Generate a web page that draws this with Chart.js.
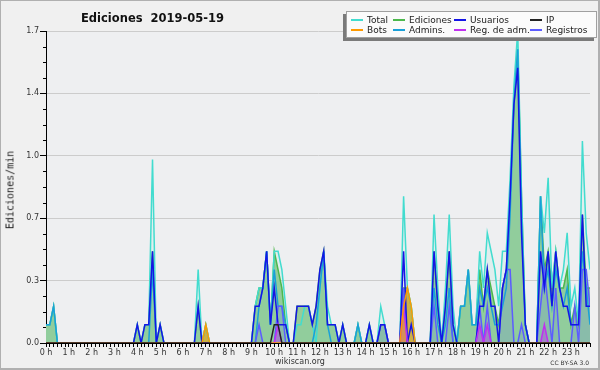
<!DOCTYPE html>
<html>
<head>
<meta charset="utf-8">
<script src="https://cdn.jsdelivr.net/npm/chart.js@4.4.0/dist/chart.umd.min.js"></script>
<style>
body { margin: 0; background: #f0f0f0; }
#caja { position: relative; width: 600px; height: 370px; overflow: hidden; font-family: "DejaVu Sans", sans-serif; color: #222; }
#grafico { position: absolute; left: 0; top: 0; }
#marco { position: absolute; left: 0; top: 0; width: 600px; height: 370px; box-sizing: border-box; border: 1px solid #b0b0b0; border-right-width: 2px; border-bottom-width: 2px; pointer-events: none; }
#titulo { position: absolute; left: 81px; top: 11px; font-size: 11.5px; font-weight: bold; white-space: pre; color: #111; }
#tituloY { position: absolute; left: 10px; top: 190px; font-family: "DejaVu Sans Mono", monospace; font-size: 10px; white-space: nowrap; transform: translate(-50%, -50%) rotate(-90deg); }
#leyenda { position: absolute; left: 346px; top: 11px; width: 251px; height: 27px; box-sizing: border-box; background: #fbfbfb; border: 1px solid #a0a0a0; box-shadow: -3px 3px 0 #7a7a7a; }
.item { position: absolute; font-size: 9px; line-height: 10px; white-space: nowrap; }
.item i { position: absolute; left: -16px; top: 4px; width: 12px; height: 1.5px; }
#pie { position: absolute; left: 0; top: 357px; width: 600px; text-align: center; font-size: 8px; color: #333; }
#licencia { position: absolute; right: 11px; top: 359px; font-size: 6px; color: #333; }
</style>
</head>
<body>
<div id="caja">
  <canvas id="grafico" width="600" height="370"></canvas>
  <div id="titulo">Ediciones  2019-05-19</div>
  <div id="tituloY">Ediciones/min</div>
  <div id="leyenda"></div>
  <div id="pie">wikiscan.org</div>
  <div id="licencia">CC BY-SA 3.0</div>
  <div id="marco"></div>
</div>
<script>
// Valores a cada 10 minutos (144 pontos, 12 por linha = 2 horas)
var total = [
  0.1,0.1,0.2,0,0,0,0,0,0,0,0,0,
  0,0,0,0,0,0,0,0,0,0,0,0,
  0.1,0,0.1,0.1,1.0,0,0.1,0,0,0,0,0,
  0,0,0,0,0.4,0,0.1,0,0,0,0,0,
  0,0,0,0,0,0,0,0.2,0.3,0.3,0.5,0.1,
  0.5,0.5,0.4,0.2,0,0,0.1,0.1,0.2,0.2,0.1,0,
  0.3,0.5,0.2,0.1,0.1,0,0.1,0,0,0,0.1,0,
  0,0.1,0,0,0.2,0.1,0,0,0,0,0.8,0.3,
  0.2,0,0,0,0,0,0.7,0.3,0,0.3,0.7,0.2,
  0,0.2,0.2,0.4,0.1,0.1,0.5,0.3,0.6,0.5,0.4,0.2,
  0.5,0.5,0.9,1.4,1.7,0.8,0.1,0,0,0,0.8,0.6,
  0.9,0.3,0.5,0.3,0.4,0.6,0.2,0.3,0.1,1.1,0.6,0.4
];
var ediciones = [
  0.1,0.1,0.2,0,0,0,0,0,0,0,0,0,
  0,0,0,0,0,0,0,0,0,0,0,0,
  0.1,0,0.1,0.1,0.5,0,0.1,0,0,0,0,0,
  0,0,0,0,0.2,0,0.1,0,0,0,0,0,
  0,0,0,0,0,0,0,0.2,0.3,0.3,0.5,0.1,
  0.5,0.4,0.3,0.1,0,0,0.2,0.2,0.2,0.2,0.1,0.2,
  0.4,0.5,0.1,0.1,0.1,0,0.1,0,0,0,0.1,0,
  0,0.1,0,0,0.1,0.1,0,0,0,0,0.3,0.3,
  0.2,0,0,0,0,0,0.5,0.2,0,0.2,0.5,0.1,
  0,0.2,0.2,0.4,0.1,0.1,0.4,0.2,0.4,0.3,0.2,0.1,
  0.3,0.4,0.8,1.3,1.6,0.8,0.1,0,0,0,0.8,0.4,
  0.5,0.3,0.5,0.3,0.3,0.4,0.1,0.2,0.1,0.7,0.3,0.3
];
var usuarios = [
  0,0,0,0,0,0,0,0,0,0,0,0,
  0,0,0,0,0,0,0,0,0,0,0,0,
  0.1,0,0.1,0.1,0.5,0,0.1,0,0,0,0,0,
  0,0,0,0,0.2,0,0,0,0,0,0,0,
  0,0,0,0,0,0,0,0.2,0.2,0.3,0.5,0.1,
  0.3,0.1,0.1,0.1,0,0,0.2,0.2,0.2,0.2,0.1,0.2,
  0.4,0.5,0.1,0.1,0.1,0,0.1,0,0,0,0,0,
  0,0.1,0,0,0.1,0.1,0,0,0,0,0.5,0,
  0.1,0,0,0,0,0,0.5,0.2,0,0.2,0.5,0.1,
  0,0,0,0,0,0,0.2,0.2,0.4,0.2,0.2,0,
  0.3,0.4,0.8,1.3,1.5,0.6,0.1,0,0,0,0.5,0.3,
  0.5,0.2,0.5,0.3,0.2,0.2,0.1,0.1,0.1,0.7,0.2,0.2
];
var ip = [
  0,0,0,0,0,0,0,0,0,0,0,0,
  0,0,0,0,0,0,0,0,0,0,0,0,
  0,0,0,0,0,0,0,0,0,0,0,0,
  0,0,0,0,0,0,0,0,0,0,0,0,
  0,0,0,0,0,0,0,0,0,0,0,0,
  0.1,0.1,0,0,0,0,0,0,0,0,0,0,
  0,0,0,0,0,0,0,0,0,0,0,0,
  0,0,0,0,0,0,0,0,0,0,0,0,
  0,0,0,0,0,0,0,0,0,0,0,0,
  0,0,0,0,0,0,0,0,0,0,0,0,
  0,0,0,0,0,0,0,0,0,0,0,0,
  0,0,0,0,0,0,0,0,0,0,0,0
];
var bots = [
  0,0,0,0,0,0,0,0,0,0,0,0,
  0,0,0,0,0,0,0,0,0,0,0,0,
  0,0,0,0,0,0,0,0,0,0,0,0,
  0,0,0,0,0,0,0.1,0,0,0,0,0,
  0,0,0,0,0,0,0,0,0,0,0,0,
  0,0,0,0,0,0,0,0,0,0,0,0,
  0,0,0,0,0,0,0,0,0,0,0,0,
  0,0,0,0,0,0,0,0,0,0,0.2,0.3,
  0.2,0,0,0,0,0,0,0,0,0,0,0,
  0,0,0,0,0,0,0,0,0,0,0,0,
  0,0,0,0,0,0,0,0,0,0,0,0,
  0,0,0,0,0,0,0,0,0,0,0,0
];
var admins = [
  0.1,0.1,0.2,0,0,0,0,0,0,0,0,0,
  0,0,0,0,0,0,0,0,0,0,0,0,
  0,0,0,0,0.4,0,0,0,0,0,0,0,
  0,0,0,0,0,0,0,0,0,0,0,0,
  0,0,0,0,0,0,0,0,0.2,0.3,0.5,0.1,
  0.4,0.2,0.2,0.1,0,0,0,0,0,0,0,0.1,
  0.3,0.5,0.1,0,0,0,0,0,0,0,0.1,0,
  0,0,0,0,0,0,0,0,0,0,0,0,
  0,0,0,0,0,0,0.3,0.1,0,0.1,0.3,0,
  0,0.2,0.2,0.4,0.1,0.1,0.3,0.2,0.3,0.2,0.1,0.1,
  0.2,0.3,0.7,1.3,1.6,0.7,0.1,0,0,0,0.8,0.3,
  0.4,0.2,0.4,0.3,0.2,0.3,0.1,0.1,0.1,0.5,0.3,0.1
];
var regAdm = [
  0,0,0,0,0,0,0,0,0,0,0,0,
  0,0,0,0,0,0,0,0,0,0,0,0,
  0,0,0,0,0,0,0,0,0,0,0,0,
  0,0,0,0,0,0,0,0,0,0,0,0,
  0,0,0,0,0,0,0,0,0,0,0,0,
  0,0.1,0,0,0,0,0,0,0,0,0,0,
  0,0,0,0,0,0,0,0,0,0,0,0,
  0,0,0,0,0,0,0,0,0,0,0.2,0,
  0,0,0,0,0,0,0,0,0,0,0,0,
  0,0,0,0,0,0,0.1,0,0.1,0,0,0,
  0,0,0,0,0,0,0,0,0,0,0,0.1,
  0,0,0,0,0,0,0,0,0,0,0,0
];
var registros = [
  0,0,0,0,0,0,0,0,0,0,0,0,
  0,0,0,0,0,0,0,0,0,0,0,0,
  0,0,0,0,0,0,0,0,0,0,0,0,
  0,0,0,0,0,0,0,0,0,0,0,0,
  0,0,0,0,0,0,0,0,0.1,0,0,0,
  0,0.2,0.2,0,0,0,0,0,0,0,0,0,
  0,0,0,0,0,0,0,0,0,0,0,0,
  0,0,0,0,0.1,0.1,0,0,0,0,0.3,0,
  0,0,0,0,0,0,0.2,0,0,0,0.2,0,
  0,0,0,0,0,0,0.2,0,0.2,0,0,0,
  0.3,0.4,0.4,0,0,0.1,0,0,0,0,0.2,0.4,
  0.2,0,0.3,0,0,0,0,0.2,0,0.4,0.4,0.2
];

// Rótulos dos eixos
var horas = ["0 h","1 h","2 h","3 h","4 h","5 h","6 h","7 h","8 h","9 h","10 h","11 h",
             "12 h","13 h","14 h","15 h","16 h","17 h","18 h","19 h","20 h","21 h","22 h","23 h"];
var yTicks = [0, 0.34, 0.68, 1.02, 1.36, 1.7];
var yLabels = ["0.0", "0.3", "0.7", "1.0", "1.4", "1.7"];

// Séries: nome, dados, cor da linha, preenchimento, ordem de desenho
var series = [
  { nome: "Total",        dados: total,     cor: "#42dccf", fundo: "rgba(64,224,208,0.08)", ordem: 7 },
  { nome: "Ediciones",    dados: ediciones, cor: "#4cb84c", fundo: "#98cb98",               ordem: 8 },
  { nome: "Usuarios",     dados: usuarios,  cor: "#1414e6", fundo: null,                    ordem: 4 },
  { nome: "IP",           dados: ip,        cor: "#222222", fundo: null,                    ordem: 1 },
  { nome: "Bots",         dados: bots,      cor: "#ff9a00", fundo: "rgba(255,154,0,0.55)",  ordem: 2 },
  { nome: "Admins.",      dados: admins,    cor: "#1aa0d8", fundo: null,                    ordem: 6 },
  { nome: "Reg. de adm.", dados: regAdm,    cor: "#c030f0", fundo: "rgba(192,48,240,0.4)",  ordem: 3 },
  { nome: "Registros",    dados: registros, cor: "#5c5cff", fundo: "rgba(92,92,255,0.15)",  ordem: 5 }
];

var datasets = series.map(function (s) {
  return {
    label: s.nome,
    data: s.dados.map(function (v, i) { return { x: i, y: v }; }),
    borderColor: s.cor,
    backgroundColor: s.fundo || "transparent",
    fill: s.fundo ? "origin" : false,
    order: s.ordem
  };
});

// Legenda em HTML (4 colunas x 2 linhas)
var colunasX = [366, 408, 469, 545];
var linhasY = [14, 24];
var leyenda = document.getElementById("leyenda");
series.forEach(function (s, k) {
  var item = document.createElement("div");
  item.className = "item";
  item.style.left = (colunasX[k % 4] - 346) + "px";
  item.style.top = (linhasY[Math.floor(k / 4)] - 11) + "px";
  item.innerHTML = '<i style="background:' + s.cor + '"></i>' + s.nome;
  leyenda.appendChild(item);
});

// Fundo da área do gráfico, eixo X por cima dos dados e marcas menores do eixo Y
var pluginFundo = {
  id: "fundo",
  beforeDraw: function (chart) {
    var a = chart.chartArea, ctx = chart.ctx;
    ctx.save();
    ctx.fillStyle = "#eeeff1";
    ctx.fillRect(a.left, a.top, a.right - a.left, a.bottom - a.top);
    ctx.restore();
  },
  afterDatasetsDraw: function (chart) {
    var a = chart.chartArea, ctx = chart.ctx, y = chart.scales.y;
    ctx.save();
    ctx.fillStyle = "#000";
    ctx.fillRect(a.left - 1, Math.round(a.bottom), a.right - a.left + 1, 1);
    for (var i = 0; i < yTicks.length - 1; i++) {
      for (var k = 1; k < 4; k++) {
        var v = yTicks[i] + (yTicks[i + 1] - yTicks[i]) * k / 4;
        ctx.fillRect(a.left - 3, Math.round(y.getPixelForValue(v)), 3, 1);
      }
    }
    ctx.restore();
  }
};

var config = {
  type: "line",
  data: { datasets: datasets },
  options: {
    responsive: false,
    animation: false,
    layout: { padding: { left: 0, top: 31, right: 10, bottom: 0 } },
    elements: {
      point: { radius: 0 },
      line: { tension: 0, borderWidth: 1.5 }
    },
    plugins: {
      legend: { display: false },
      tooltip: { enabled: false },
      filler: { drawTime: "beforeDatasetsDraw" }
    },
    scales: {
      x: {
        type: "linear",
        min: 0,
        max: 143,
        afterFit: function (s) { s.height = 27; },
        afterBuildTicks: function (s) {
          s.ticks = total.map(function (v, i) { return { value: i }; });
        },
        grid: { drawOnChartArea: false, tickLength: 4, tickColor: "#000" },
        border: { color: "#000" },
        ticks: {
          autoSkip: false, maxRotation: 0, minRotation: 0, padding: 1,
          color: "#333", font: { family: "DejaVu Sans", size: 8 },
          callback: function (v) { return v % 6 === 0 ? horas[v / 6] : ""; }
        }
      },
      y: {
        min: 0,
        max: 1.7,
        afterFit: function (s) { s.width = 46; },
        afterBuildTicks: function (s) {
          s.ticks = yTicks.map(function (v) { return { value: v }; });
        },
        grid: { color: "#cccccc", tickLength: 6, tickColor: "#000" },
        border: { color: "#000" },
        ticks: {
          padding: 1, color: "#333", font: { family: "DejaVu Sans", size: 8 },
          callback: function (v, i) { return yLabels[i]; }
        }
      }
    }
  },
  plugins: [pluginFundo]
};

var grafico = new Chart(document.getElementById("grafico"), config);
</script>
</body>
</html>
